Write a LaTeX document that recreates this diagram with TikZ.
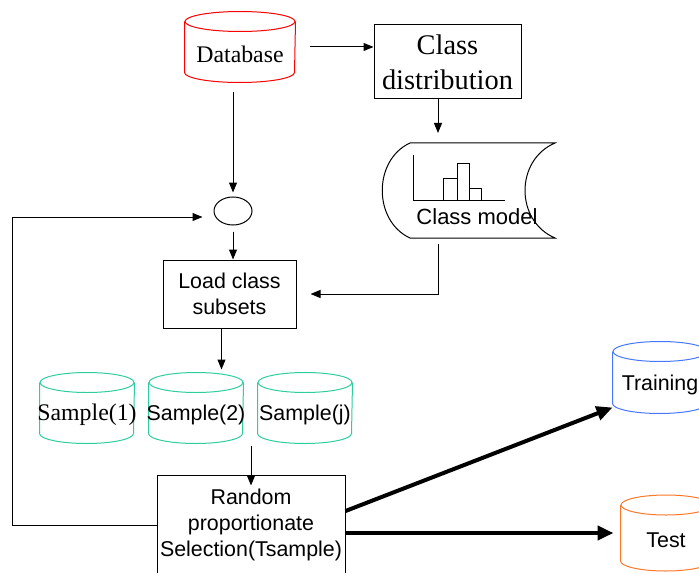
\documentclass[tikz,border=0pt]{standalone}
\usepackage{fontspec}
\setmainfont{Liberation Serif}
\setsansfont{Liberation Sans}
\usetikzlibrary{arrows.meta,shapes.geometric}

\definecolor{dbred}{RGB}{255,0,0}
\definecolor{smpgreen}{RGB}{45,205,160}
\definecolor{trnblue}{RGB}{70,120,255}
\definecolor{tstorange}{RGB}{255,120,40}

% database cylinder: name, position, colour, width, height, text style, text
\newcommand{\dbcyl}[7]{%
  \node[minimum width=#4, minimum height=#5, inner sep=0pt] (#1) at #2 {};
  \draw[#3] ([yshift=-5pt]#1.north) ellipse [x radius=#4/2, y radius=5pt];
  \draw[#3] ([yshift=-5pt]#1.north west) -- ([yshift=5pt]#1.south west)
    arc [start angle=180, end angle=360, x radius=#4/2, y radius=5pt] -- ([yshift=-5pt]#1.north east);
  \node[#6] at ([yshift=-3.5pt]#1.center) {#7};
}

\begin{document}
\begin{tikzpicture}[x=0.5pt, y=-0.5pt, line width=0.5pt, >={Triangle[length=5pt,width=4pt]},
  every node/.style={font=\sffamily\fontsize{10.7}{13}\selectfont},
  rmtext/.style={font=\rmfamily\fontsize{11.9}{14}\selectfont},
  box/.style={draw, align=center, inner sep=0pt},
  thickarrow/.style={line width=2pt, -{Triangle[length=8pt,width=7pt]}}]
	\useasboundingbox (0,0) rectangle (699,572);
	\clip (0,0) rectangle (699,572);
	% sources
	\dbcyl{db}{(240,47)}{dbred}{55pt}{35pt}{rmtext}{Database}
	\node[box, minimum width=73.5pt, minimum height=37pt, font=\rmfamily\fontsize{14.2}{17.5}\selectfont] (dist) at (447.5,62) {Class\\distribution};
	% class model
	\draw (410,143) -- (555,143) .. controls (515,160) and (515,221) .. (555,238) -- (410,238) .. controls (373,221) and (373,160) .. (410,143);
	\draw (413,155) -- (413,200) -- (505,200);
	\draw (443,200) rectangle (457,178); \draw (457,200) rectangle (469,163); \draw (469,200) rectangle (481,188);
	\node[font=\sffamily\fontsize{11}{13}\selectfont] (model) at (477,217) {Class model};
	\coordinate (mtop) at (438,143); \coordinate (mbot) at (438,238);
	% loop
	\node[draw, ellipse, minimum width=19pt, minimum height=14pt, inner sep=0pt] (junc) at (233,211) {};
	\node[box, minimum width=66.5pt, minimum height=34pt] (load) at (229.5,294) {Load class\\subsets};
	\dbcyl{s1}{(87,408)}{smpgreen}{47pt}{35pt}{rmtext}{Sample(1)}
	\dbcyl{s2}{(196,408)}{smpgreen}{47pt}{35pt}{}{Sample(2)}
	\dbcyl{sj}{(305,408)}{smpgreen}{47pt}{35pt}{}{Sample(j)}
	\node[box, minimum width=94pt, minimum height=50pt] (rnd) at (251,525) {Random\\proportionate\\Selection(Tsample)};
	\dbcyl{train}{(660,377.5)}{trnblue}{47pt}{35.5pt}{}{Training}
	\dbcyl{test}{(666,533)}{tstorange}{45pt}{37.5pt}{}{Test}
	\coordinate (loop) at (12,217);
	% connectors
	\draw[->, shorten <=7pt] (db.east) -- (db.east -| dist.west);
	\draw[->, shorten >=5pt] (dist.south -| mtop) -- (mtop);
	\draw[->, shorten <=5pt, shorten >=2pt] (db.south -| junc.north) -- (junc.north);
	\draw[->, shorten <=3pt] (junc.south) -- (junc.south |- load.north);
	\draw[->, shorten <=3pt, shorten >=7pt] (mbot) |- (load.east);
	\draw[->, shorten >=1.5pt] ([xshift=-4pt]load.south) -- ([xshift=-4pt]load.south |- s2.north);
	\draw[->, shorten <=1pt] (s2.south -| rnd.north) -- ([yshift=-5.5pt]rnd.north);
	\draw[->] (rnd.west) -| (loop) -- ([shift={(-5.5pt,-3pt)}]junc.west);
	\draw[thickarrow] ([yshift=7pt]rnd.east) -- ([yshift=-15pt]train.west);
	\draw[thickarrow, shorten >=3.5pt] (rnd.east |- test.west) -- (test.west);
\end{tikzpicture}
\end{document}
